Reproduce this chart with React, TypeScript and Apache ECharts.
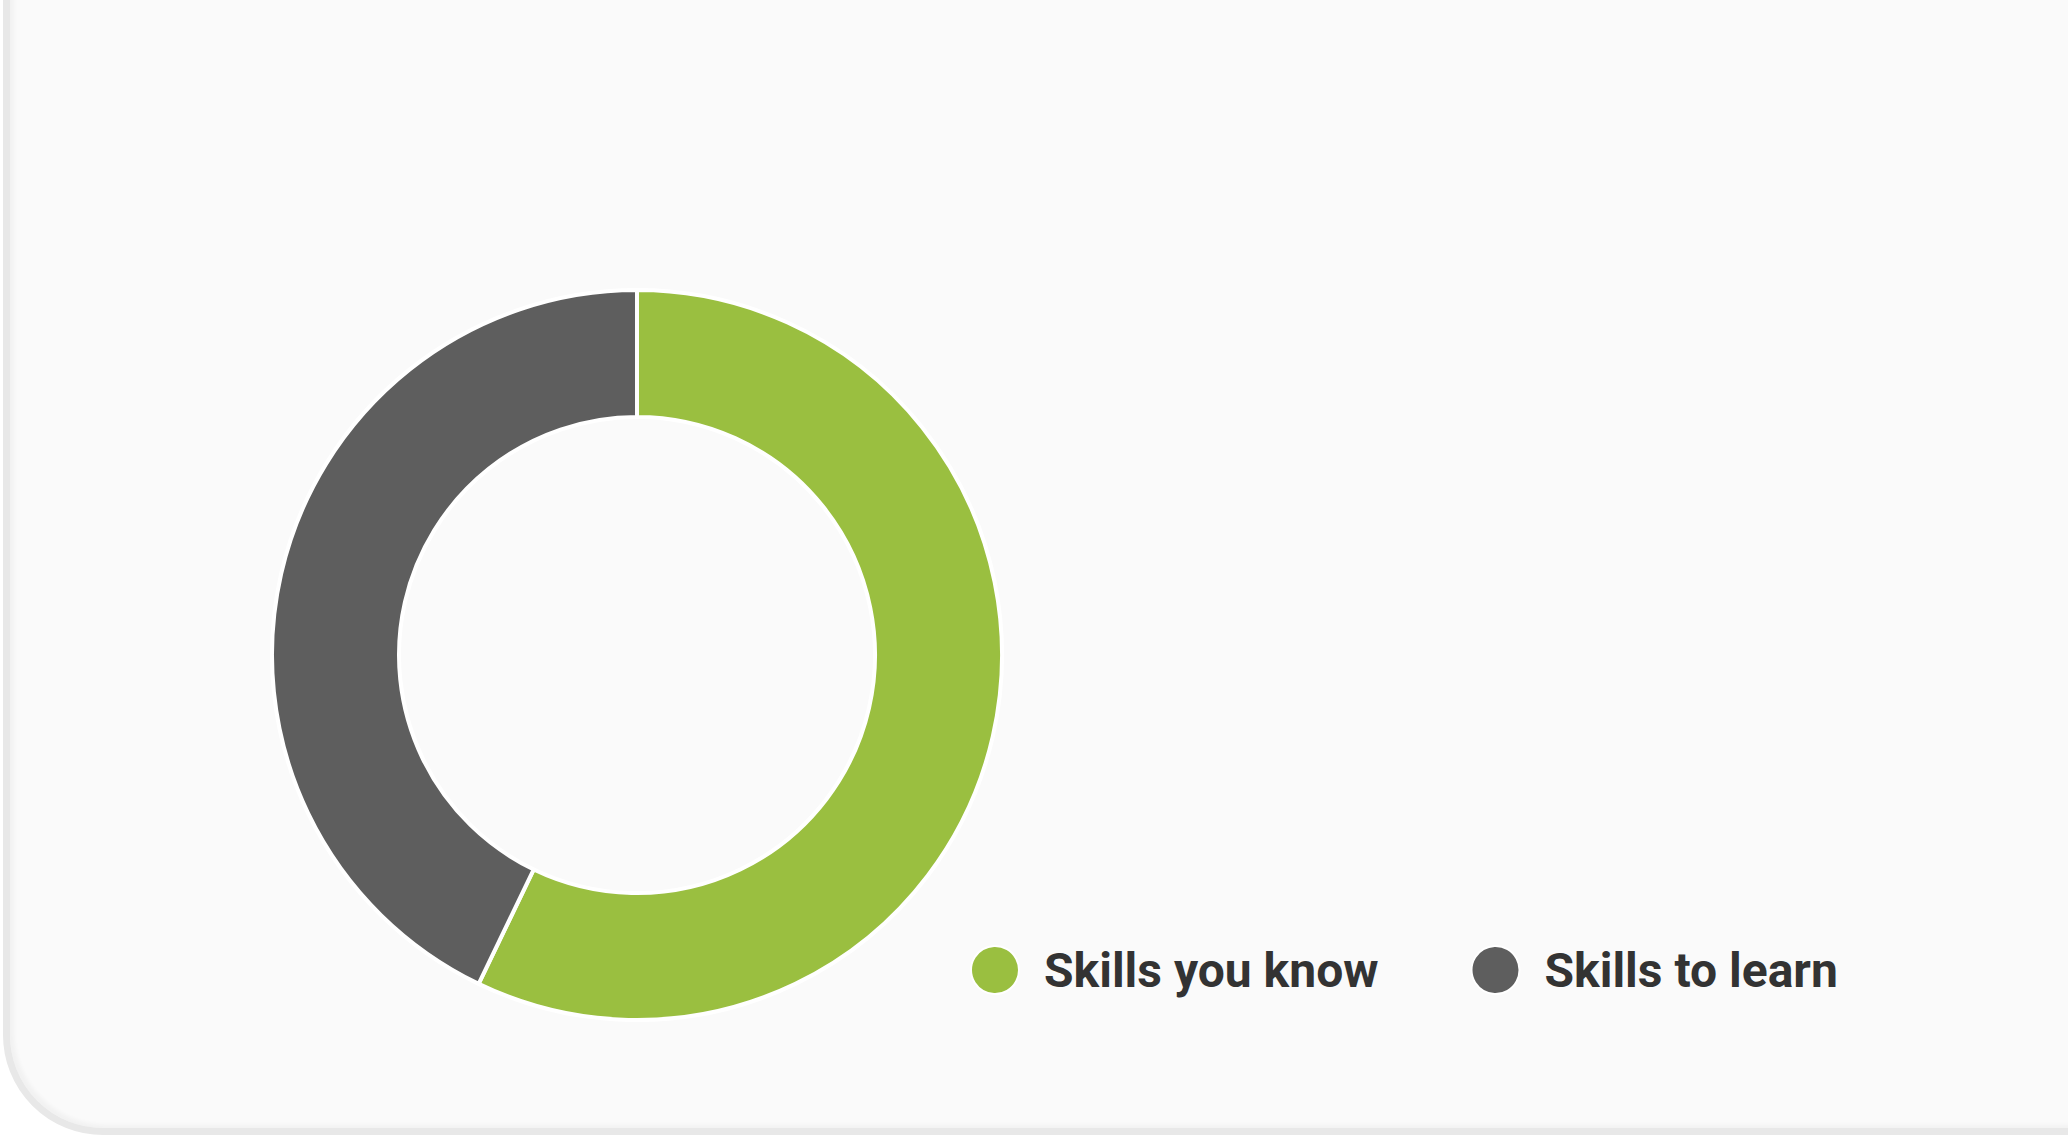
import React, { useEffect, useRef } from "react";
import * as echarts from "echarts";

const categories = ["Skills you know", "Skills to learn"];
const values = [4, 3];
const colors = ["#9abf40", "#5e5e5e"];

export default function App() {
  const ref = useRef<HTMLDivElement>(null);

  useEffect(() => {
    document.body.style.margin = "0";
    const chart = echarts.init(ref.current!, null, { renderer: "svg" });
    chart.setOption({
      animation: false,
      backgroundColor: "transparent",
      color: colors,
      legend: {
        left: 970,
        top: 945,
        padding: 0,
        orient: "horizontal",
        icon: "circle",
        itemWidth: 48,
        itemHeight: 48,
        itemGap: 92,
        data: categories,
        textStyle: {
          fontFamily: "Roboto",
          fontWeight: "bold",
          fontSize: 48,
          color: "#333333",
          padding: [0, 0, 0, 20],
        },
      },
      series: [
        {
          type: "pie",
          center: [637, 655],
          radius: [238, 365],
          startAngle: 90,
          clockwise: true,
          label: { show: false },
          labelLine: { show: false },
          emphasis: { disabled: true },
          itemStyle: { borderColor: "#ffffff", borderWidth: 4 },
          data: categories.map((name, i) => ({ name, value: values[i] })),
        },
      ],
    });
    return () => chart.dispose();
  }, []);

  return (
    <div
      style={{
        position: "fixed",
        left: 0,
        top: 0,
        width: 2068,
        height: 1135,
        background: "#ffffff",
        overflow: "hidden",
      }}
    >
      <div
        style={{
          position: "absolute",
          left: 3,
          top: -20,
          width: 2200,
          height: 1155,
          boxSizing: "border-box",
          border: "7px solid #e8e8e8",
          borderBottomLeftRadius: 100,
          background: "#fafafa",
          boxShadow: "inset 4px -3px 4px rgba(0,0,0,0.035)",
        }}
      />
      <div
        ref={ref}
        style={{ position: "absolute", left: 0, top: 0, width: 2068, height: 1135 }}
      />
    </div>
  );
}
